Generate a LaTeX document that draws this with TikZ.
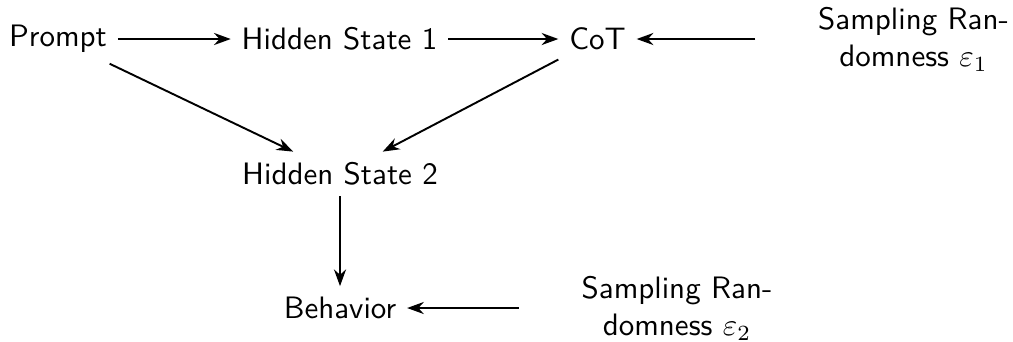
\documentclass[tikz,border=0pt]{standalone}
\usetikzlibrary{arrows.meta}
\begin{document}
\begin{tikzpicture}[x=0.3226pt,y=-0.3226pt,
  every node/.style={font=\sffamily},
  lbl/.style={align=center,text width=95pt},
  conn/.style={-{Stealth[length=5.4pt,width=3.9pt]},line width=0.62pt}]
\useasboundingbox (0,0) rectangle (1013,341);
\node (prompt) at (58,39) {Prompt};
\node (hs1) at (339.5,39) {Hidden State 1};
\node (cot) at (597.5,39) {CoT};
\node[lbl] (eps1) at (913.5,39) {Sampling Ran-\\domness $\varepsilon_1$};
\node (hs2) at (340,174) {Hidden State 2};
\node (beh) at (340,308) {Behavior};
\node[lbl] (eps2) at (677,308) {Sampling Ran-\\domness $\varepsilon_2$};
\draw[conn] (prompt) -- (hs1);
\draw[conn] (hs1) -- (cot);
\draw[conn] (eps1) -- (cot);
\draw[conn] (prompt) -- (hs2);
\draw[conn] (cot) -- (hs2);
\draw[conn] (hs2) -- (beh);
\draw[conn] (eps2) -- (beh);
\end{tikzpicture}
\end{document}
